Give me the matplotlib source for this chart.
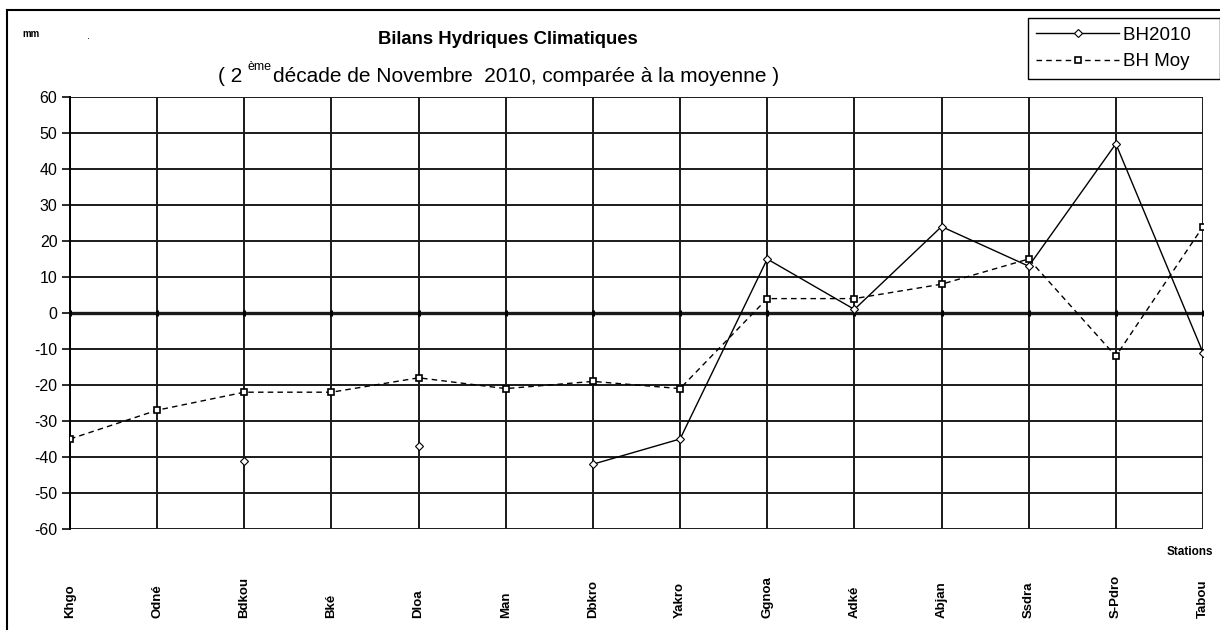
import numpy as np
import matplotlib
matplotlib.use("Agg")
import matplotlib.pyplot as plt
from matplotlib.lines import Line2D

plt.rcParams['font.family'] = ['Liberation Sans', 'DejaVu Sans']

stations = ["Khgo", "Odné", "Bdkou", "Bké", "Dloa", "Man", "Dbkro",
            "Yakro", "Ggnoa", "Adké", "Abjan", "Ssdra", "S-Pdro", "Tabou"]
bh2010 = [np.nan, np.nan, -41, np.nan, -37, np.nan, -42,
          -35, 15, 1, 24, 13, 47, -11]
bh_moy = [-35, -27, -22, -22, -18, -21, -19,
          -21, 4, 4, 8, 15, -12, 24]
y_ticks = list(range(-60, 61, 10))

W, H = 1220, 630
fig = plt.figure(figsize=(W / 100, H / 100), dpi=100)
ax = fig.add_axes([70 / W, 1 - 529 / H, (1203 - 70) / W, (529 - 97) / H])

x = np.arange(len(stations))

# grid
for v in y_ticks:
    ax.axhline(v, color="#1a1a1a", lw=1.4 if v != 0 else 2.4, zorder=1)
for xi in x:
    ax.axvline(xi, color="#1a1a1a", lw=1.4, zorder=1)
# small ticks on the zero line
ax.plot(x, np.zeros(len(x)), ls="none", marker="|", ms=5, mew=2.2, color="black", zorder=2)

ax.plot(x, bh2010, color="black", lw=1.0, marker="D", ms=4.5,
        mfc="white", mec="black", mew=0.8, zorder=4)
ax.plot(x, bh_moy, color="black", lw=1.0, ls=(0, (4, 3)), marker="s", ms=4.5,
        mfc="white", mec="black", mew=1.2, zorder=3)

ax.set_xlim(0, len(stations) - 1)
ax.set_ylim(-60, 60)
ax.set_yticks(y_ticks)
ax.set_yticklabels([str(v) for v in y_ticks], fontsize=11.5)
ax.tick_params(axis="y", length=6, width=1.3, pad=3, color="#1a1a1a")
ax.set_xticks([])
for s in ["top", "right", "bottom"]:
    ax.spines[s].set_visible(False)
ax.spines["left"].set_linewidth(1.4)

# station labels, rotated and bottom aligned
label_y = -(618 - 529) / (529 - 97)
for xi, name in zip(x, stations):
    ax.text(xi, label_y, name, rotation=90, ha="center", va="bottom", fontsize=9.5,
            fontweight="bold", transform=ax.get_xaxis_transform())

# titles
fig.text(508 / W, 1 - 40 / H, "Bilans Hydriques Climatiques", ha="center", va="center",
         fontsize=13.3, fontweight="bold")
fig.text(242 / W, 1 - 76 / H, "( 2", ha="right", va="center", fontsize=15)
fig.text(247 / W, 1 - 67 / H, "ème", ha="left", va="center", fontsize=9)
fig.text(273 / W, 1 - 76 / H, "décade de Novembre  2010, comparée à la moyenne )",
         ha="left", va="center", fontsize=15)
fig.text(22 / W, 1 - 34 / H, "mm", ha="left", va="center", fontsize=7, fontweight="bold")
fig.text(88 / W, 1 - 36 / H, ".", ha="center", va="center", fontsize=8)
fig.text(1190 / W, 1 - 552 / H, "Stations", ha="center", va="center", fontsize=8.5,
         fontweight="bold")

# legend
handles = [Line2D([], [], color="black", lw=1.0, marker="D", ms=4.5, mfc="white", mew=0.8),
           Line2D([], [], color="black", lw=1.0, ls=(0, (4, 3)), marker="s", ms=4.5,
                  mfc="white", mew=1.2)]
leg = fig.legend(handles, ["BH2010    ", "BH Moy    "], loc="upper right",
                 bbox_to_anchor=(1220 / W, 1 - 18 / H), fontsize=13.5, frameon=True,
                 fancybox=False, edgecolor="black", framealpha=1, handlelength=4.4,
                 borderpad=0.45, labelspacing=0.5, handletextpad=0.2, borderaxespad=0)
leg.get_frame().set_linewidth(1.0)

# outer frame (top and left visible)
fig.add_artist(Line2D([7 / W, 1], [1 - 10 / H, 1 - 10 / H], color="black", lw=1.5))
fig.add_artist(Line2D([7 / W, 7 / W], [0, 1 - 10 / H], color="black", lw=1.5))

fig.savefig("out.png", dpi=100, facecolor="white")
